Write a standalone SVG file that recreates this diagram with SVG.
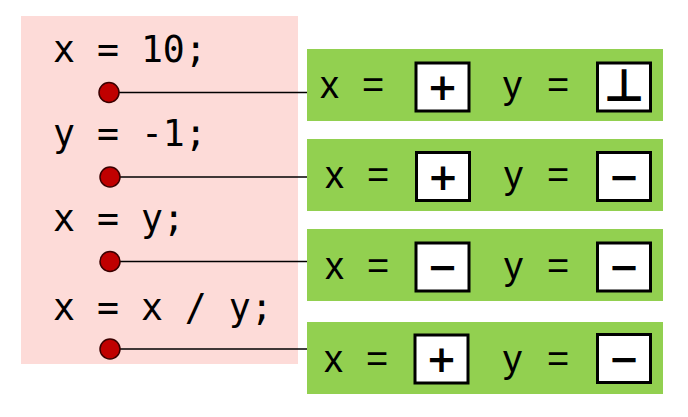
<svg xmlns="http://www.w3.org/2000/svg" width="688" height="417" viewBox="0 0 688 417">
<style>
.code{font-family:"DejaVu Sans Mono","Liberation Mono",monospace;font-size:36.5px;fill:#000}
.bg{fill:#92d050}
.t{font-family:"Liberation Sans",Arial,sans-serif;font-size:38px;fill:#000}
.sq{fill:#fff;stroke:#000;stroke-width:3}
.sym{font-family:"DejaVu Sans","Liberation Sans",sans-serif;font-size:37px;font-weight:bold;fill:#000;text-anchor:middle}
.bot{font-size:45px}
.dot{fill:#c00000;stroke:#3a0000;stroke-width:1.5}
.ln{stroke:#000;stroke-width:1.5;fill:none}
</style>
<g id="code">
<rect x="21" y="16" width="277" height="348" fill="#fddbd8"/>
<text class="code" x="53" y="62" xml:space="preserve">x = 10;</text>
<text class="code" x="53" y="146" xml:space="preserve">y = -1;</text>
<text class="code" x="53" y="231" xml:space="preserve">x = y;</text>
<text class="code" x="53" y="320" xml:space="preserve">x = x / y;</text>
</g>
<g id="connectors">
<line class="ln" x1="110" y1="92.5" x2="307" y2="92.5"/>
<line class="ln" x1="110" y1="177" x2="307" y2="177"/>
<line class="ln" x1="110" y1="261.5" x2="307" y2="261.5"/>
<line class="ln" x1="110" y1="349" x2="307" y2="349"/>
<circle class="dot" cx="109" cy="92.5" r="10"/>
<circle class="dot" cx="110" cy="177" r="10"/>
<circle class="dot" cx="110" cy="261.5" r="10"/>
<circle class="dot" cx="110" cy="349" r="10"/>
</g>
<g id="state1">
<rect class="bg" x="307" y="49" width="356" height="72"/>
<text class="t" x="320" y="98">x</text>
<text class="t" x="362" y="98">=</text>
<text class="t" x="503" y="98">y</text>
<text class="t" x="547" y="98">=</text>
<rect class="sq" x="416" y="63" width="53" height="48"/>
<rect class="sq" x="597.5" y="63" width="53" height="48"/>
<text class="sym" x="442.5" y="100">+</text>
<text class="sym bot" x="624" y="101">⊥</text>
</g>
<g id="state2">
<rect class="bg" x="307" y="139" width="356" height="72"/>
<text class="t" x="325" y="188">x</text>
<text class="t" x="367" y="188">=</text>
<text class="t" x="504" y="188">y</text>
<text class="t" x="547" y="188">=</text>
<rect class="sq" x="416.5" y="152.5" width="53" height="48"/>
<rect class="sq" x="597.5" y="152.5" width="53" height="48"/>
<text class="sym" x="443" y="189.5">+</text>
<text class="sym" x="624" y="189.5">−</text>
</g>
<g id="state3">
<rect class="bg" x="307" y="229" width="356" height="72"/>
<text class="t" x="325" y="279">x</text>
<text class="t" x="367" y="279">=</text>
<text class="t" x="504" y="279">y</text>
<text class="t" x="547" y="279">=</text>
<rect class="sq" x="416" y="243" width="53" height="48"/>
<rect class="sq" x="597.5" y="243" width="53" height="48"/>
<text class="sym" x="442.5" y="280">−</text>
<text class="sym" x="624" y="280">−</text>
</g>
<g id="state4">
<rect class="bg" x="307" y="322" width="356" height="72"/>
<text class="t" x="324" y="372">x</text>
<text class="t" x="366" y="372">=</text>
<text class="t" x="503" y="372">y</text>
<text class="t" x="547" y="372">=</text>
<rect class="sq" x="415" y="335" width="53" height="48"/>
<rect class="sq" x="597.5" y="334.5" width="53" height="48"/>
<text class="sym" x="441.5" y="372">+</text>
<text class="sym" x="624" y="371.5">−</text>
</g>
</svg>
